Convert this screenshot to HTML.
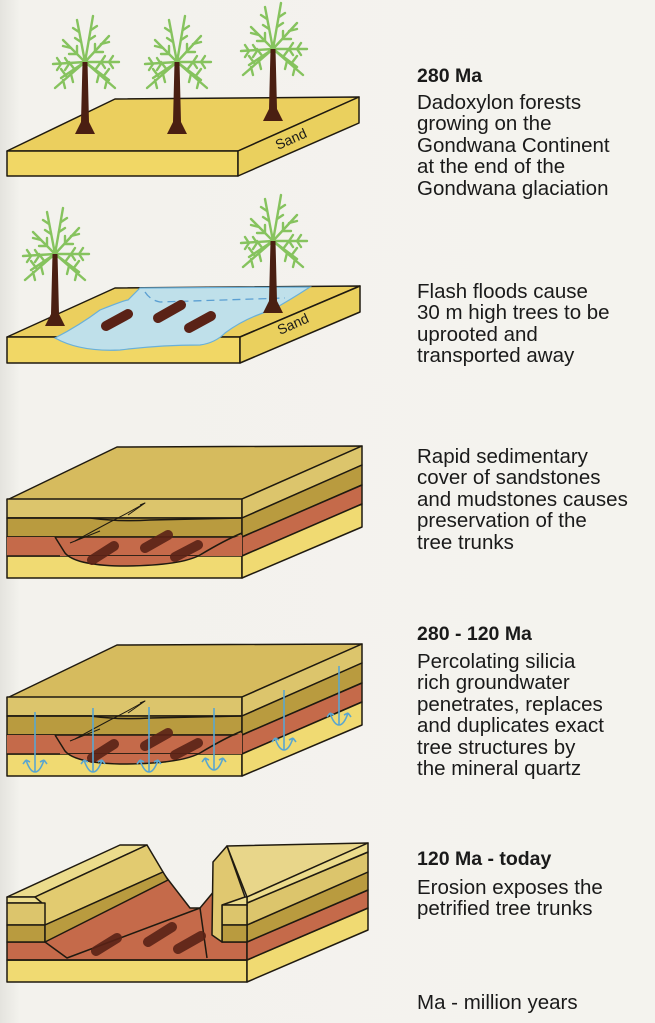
<!DOCTYPE html>
<html><head><meta charset="utf-8"><style>
html,body{margin:0;padding:0;background:#f3f2ed;}
svg{display:block}
text{font-family:"Liberation Sans",Arial,sans-serif;fill:#1a1a1a;}
</style></head><body>
<svg width="655" height="1023" viewBox="0 0 655 1023" xmlns="http://www.w3.org/2000/svg">
<defs>
<linearGradient id="bg" x1="0" x2="1" y1="0" y2="0"><stop offset="0" stop-color="#e4e3de"/><stop offset="0.03" stop-color="#f3f2ed"/><stop offset="1" stop-color="#f4f3ee"/></linearGradient>
<g id="tree">
  <g stroke="#86c35e" stroke-width="2.4" fill="none" stroke-linecap="round">
    <path d="M0,-72 L-30,-46 M0,-72 L30,-46 M0,-72 L-22,-94 M0,-72 L24,-98 M0,-72 L-8,-114 M0,-72 L8,-118 M0,-72 L-32,-70 M0,-72 L34,-72 M0,-72 L-24,-56 M0,-72 L24,-54"/>
    <path d="M-10,-64 l-6,-8 M-18,-57 l-6,-8 M-14,-60 l2,8 M-22,-54 l2,8 M10,-64 l6,-8 M18,-57 l6,-8 M14,-60 l-2,8 M22,-54 l-2,8 M-8,-80 l-8,0 M-14,-86 l-8,-2 M-8,-80 l0,-8 M10,-82 l8,0 M16,-90 l8,-2 M10,-82 l0,-8 M-4,-92 l-6,-4 M-6,-102 l-6,-4 M4,-94 l6,-4 M6,-104 l6,-4 M-16,-70 l-4,-6 M-24,-70 l-4,-6 M-16,-70 l-4,6 M-24,-70 l-4,6 M16,-72 l4,-6 M24,-72 l4,-6 M16,-72 l4,6 M24,-72 l4,6"/>
  </g>
  <path d="M-10,0 L10,0 L4,-12 L2.5,-72 L-2.5,-72 L-4,-12 Z" fill="#4a1f12"/>
</g>
</defs>
<rect width="655" height="1023" fill="url(#bg)"/>

<!-- Block 1 -->
<g stroke="#1f1a10" stroke-width="1.5" stroke-linejoin="round">
<polygon points="7,151 115,99 359,97 238,151" fill="#ebcf5e"/>
<polygon points="7,151 238,151 238,176 7,176" fill="#f1d765"/>
<polygon points="238,151 359,97 359,123 238,176" fill="#ead05e"/>
</g>
<text x="0" y="0" font-size="14" transform="translate(278,150) rotate(-24)">Sand</text>
<use href="#tree" x="85" y="134"/>
<use href="#tree" x="177" y="134"/>
<use href="#tree" x="273" y="121"/>

<!-- Block 2 -->
<g stroke="#1f1a10" stroke-width="1.5" stroke-linejoin="round">
<polygon points="7,337 115,288 360,286 240,337" fill="#ebcf5e"/>
<polygon points="7,337 240,337 240,363 7,363" fill="#f1d765"/>
<polygon points="240,337 360,286 360,312 240,363" fill="#ead05e"/>
</g>
<path d="M55,338 Q80,325 100,310 Q125,300 128,300 L140,288 L310,287 Q290,300 272,310 Q245,318 225,333 Q215,343 200,345 Q160,345 120,350 Q80,352 55,338 Z" fill="#bfe0ea" stroke="#6ab0d8" stroke-width="1.2"/>
<path d="M145,292 Q150,300 160,302 L285,298" fill="none" stroke="#5b9fd2" stroke-width="1.3" stroke-dasharray="8,5"/>
<g stroke="#5a2216" stroke-width="10" stroke-linecap="round">
<line x1="106" y1="326" x2="128" y2="314"/><line x1="158" y1="318" x2="181" y2="305"/><line x1="189" y1="328" x2="211" y2="316"/>
</g>
<text x="0" y="0" font-size="14" transform="translate(280,335) rotate(-24)">Sand</text>
<use href="#tree" x="55" y="326"/>
<use href="#tree" x="273" y="313"/>

<!-- Block 3 and 4 base -->
<g id="strata">
<g stroke="#1f1a10" stroke-width="1.5" stroke-linejoin="round">
<polygon points="7,500 117,447 362,446 242,499" fill="#d6bb5e"/>
<rect x="7" y="499" width="235" height="19" fill="#dcc56c"/>
<rect x="7" y="518" width="235" height="19" fill="#b99b3f"/>
<rect x="7" y="537" width="235" height="19" fill="#c56a4a"/>
<rect x="7" y="556" width="235" height="22" fill="#f0da72"/>
<polygon points="242,499 362,446 362,465 242,518" fill="#dcc56c"/>
<polygon points="242,518 362,465 362,485 242,537" fill="#b99b3f"/>
<polygon points="242,537 362,485 362,504 242,556" fill="#c56a4a"/>
<polygon points="242,556 362,504 362,527 242,578" fill="#f0da72"/>
<path d="M7,518 L90,518 Q120,522 150,520 L242,518" fill="none"/>
<path d="M55,537 L65,553 Q75,565 120,566 Q180,566 200,555 Q225,540 242,535 L242,556 L7,556 L7,537 Z" fill="#c56a4a" stroke="none"/>
<path d="M55,537 L65,553 Q75,565 120,566 Q180,566 200,555 Q225,540 242,533" fill="none"/>
<path d="M7,556 L60,556" fill="none"/>
<path d="M75,541 Q95,530 110,522 Q130,512 145,503 L140,505" fill="none" stroke-width="1"/>
<path d="M128,515 L138,508 L145,503" fill="none" stroke-width="1"/>
<path d="M70,543 L100,531" fill="none" stroke-width="1"/>
</g>
<g stroke="#5a2216" stroke-width="10" stroke-linecap="round" opacity="0.9">
<line x1="92" y1="560" x2="114" y2="546"/><line x1="145" y1="548" x2="168" y2="535"/><line x1="175" y1="557" x2="198" y2="545"/>
</g>
</g>
<use href="#strata" x="0" y="198"/>
<!-- arrows block 4 -->
<g stroke="#5aa6d0" stroke-width="1.6" fill="none">
<path d="M35,712 V772 M26,760 Q30,772 35,772 Q40,772 44,760 M26,760 l-3,4 M26,760 l4,2 M44,760 l3,4 M44,760 l-4,2"/>
<path d="M93,708 V772 M84,760 Q88,772 93,772 Q98,772 102,760 M84,760 l-3,4 M84,760 l4,2 M102,760 l3,4 M102,760 l-4,2"/>
<path d="M149,707 V772 M140,760 Q144,772 149,772 Q154,772 158,760 M140,760 l-3,4 M140,760 l4,2 M158,760 l3,4 M158,760 l-4,2"/>
<path d="M214,708 V770 M205,758 Q209,770 214,770 Q219,770 223,758 M205,758 l-3,4 M205,758 l4,2 M223,758 l3,4 M223,758 l-4,2"/>
<path d="M284,690 V750 M275,738 Q279,750 284,750 Q289,750 293,738 M275,738 l-3,4 M275,738 l4,2 M293,738 l3,4 M293,738 l-4,2"/>
<path d="M339,666 V725 M330,713 Q334,725 339,725 Q344,725 348,713 M330,713 l-3,4 M330,713 l4,2 M348,713 l3,4 M348,713 l-4,2"/>
</g>

<!-- Block 5 -->
<g stroke="#1f1a10" stroke-width="1.5" stroke-linejoin="round">
<rect x="7" y="960" width="240" height="22" fill="#f0da72"/>
<polygon points="247,960 368,908 368,930 247,982" fill="#f0da72"/>
<polygon points="7,942 45,942 163,873 190,908 200,908 215,890 222,942 247,942 247,960 7,960" fill="#c56a4a"/>
<polygon points="247,942 368,890 368,908 247,960" fill="#c56a4a"/>
<polygon points="247,925 368,872 368,890 247,942" fill="#b99b3f"/>
<polygon points="247,903 368,852 368,872 247,925" fill="#dcc56c"/>
<polygon points="227,846 368,843 247,897" fill="#e8d68a"/>
<polygon points="247,897 368,843 368,852 247,903" fill="#ecdc8c"/>
<rect x="222" y="897" width="25" height="8" fill="#ecdc8c"/>
<rect x="222" y="905" width="25" height="20" fill="#dcc56c"/>
<rect x="222" y="925" width="25" height="17" fill="#b99b3f"/>
<polygon points="213,862 227,846 245,897 222,905 222,925 222,942 212,935" fill="#e0c870"/>
<polygon points="7,897 120,845 147,845 35,897" fill="#ecdc8c"/>
<rect x="7" y="897" width="35" height="6" fill="#ecdc8c"/>
<polygon points="35,897 147,845 163,872 45,925 42,903" fill="#e2cb70"/>
<rect x="7" y="903" width="38" height="22" fill="#dcc56c"/>
<rect x="7" y="925" width="38" height="17" fill="#b99b3f"/>
<polygon points="45,925 163,872 168,880 45,942" fill="#b99b3f"/>
<path d="M45,942 L67,958 L200,908 M200,908 L207,958 M7,960 L247,960" fill="none"/>
</g>
<g stroke="#5a2216" stroke-width="10" stroke-linecap="round" opacity="0.9">
<line x1="96" y1="951" x2="117" y2="938"/><line x1="148" y1="942" x2="172" y2="927"/><line x1="178" y1="949" x2="201" y2="936"/>
</g>

<!-- Text -->
<g font-size="20.5">
<text x="417" y="82" font-weight="bold" font-size="19.5">280 Ma</text>
<text x="417" y="109">Dadoxylon forests</text>
<text x="417" y="130">growing on the</text>
<text x="417" y="152">Gondwana Continent</text>
<text x="417" y="173">at the end of the</text>
<text x="417" y="195">Gondwana glaciation</text>

<text x="417" y="298">Flash floods cause</text>
<text x="417" y="319">30 m high trees to be</text>
<text x="417" y="341">uprooted and</text>
<text x="417" y="362">transported away</text>

<text x="417" y="463">Rapid sedimentary</text>
<text x="417" y="484">cover of sandstones</text>
<text x="417" y="506">and mudstones causes</text>
<text x="417" y="527">preservation of the</text>
<text x="417" y="549">tree trunks</text>

<text x="417" y="640" font-weight="bold" font-size="19.5">280 - 120 Ma</text>
<text x="417" y="668">Percolating silicia</text>
<text x="417" y="689">rich groundwater</text>
<text x="417" y="711">penetrates, replaces</text>
<text x="417" y="732">and duplicates exact</text>
<text x="417" y="754">tree structures by</text>
<text x="417" y="775">the mineral quartz</text>

<text x="417" y="865" font-weight="bold" font-size="19.5">120 Ma - today</text>
<text x="417" y="894">Erosion exposes the</text>
<text x="417" y="915">petrified tree trunks</text>

<text x="417" y="1009">Ma - million years</text>
</g>
</svg>
</body></html>
